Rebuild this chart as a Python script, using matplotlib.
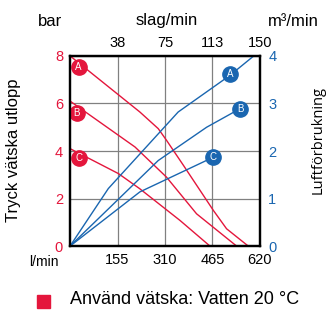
import matplotlib.pyplot as plt
from matplotlib.patches import Rectangle

plt.rcParams['font.family'] = ['Liberation Sans', 'DejaVu Sans']

red = '#e4163c'
blue = '#1a66b0'

# pressure curves (l/min -> bar)
flow_a = [0, 228, 288, 315, 370, 468, 511, 582]
bar_a = [8.0, 5.64, 4.94, 4.45, 3.40, 1.50, 0.73, 0]
flow_b = [0, 212, 315, 413, 544]
bar_b = [6.1, 4.17, 2.9, 1.36, 0]
flow_c = [0, 158, 228, 359, 457]
bar_c = [4.1, 3.05, 2.41, 1.08, 0]

# air consumption curves (l/min -> m3/min)
air_flow_a = [0, 125, 353, 522, 600]
air_a = [0, 1.21, 2.82, 3.59, 4.0]
air_flow_b = [0, 288, 446, 555]
air_b = [0, 1.80, 2.5, 2.89]
air_flow_c = [0, 228, 468]
air_c = [0, 1.14, 1.87]

xticks = [155, 310, 465, 620]
top_labels = ['38', '75', '113', '150']

fig = plt.figure(figsize=(3.35, 3.23), dpi=100)
ax = fig.add_axes([0.209, 0.238, 0.567, 0.589])
ax2 = ax.twinx()

ax.plot(flow_a, bar_a, color=red, lw=1)
ax.plot(flow_b, bar_b, color=red, lw=1)
ax.plot(flow_c, bar_c, color=red, lw=1)
ax2.plot(air_flow_a, air_a, color=blue, lw=1)
ax2.plot(air_flow_b, air_b, color=blue, lw=1)
ax2.plot(air_flow_c, air_c, color=blue, lw=1)

# circle markers with letters
for x, y, t in [(28, 7.55, 'A'), (22, 5.6, 'B'), (30, 3.7, 'C')]:
    ax.plot(x, y, 'o', ms=11, color=red, zorder=5)
    ax.text(x, y, t, color='white', fontsize=7, ha='center', va='center', zorder=6)
for x, y, t in [(522, 3.62, 'A'), (555, 2.89, 'B'), (468, 1.87, 'C')]:
    ax2.plot(x, y, 'o', ms=11, color=blue, zorder=5)
    ax2.text(x, y, t, color='white', fontsize=7, ha='center', va='center', zorder=6)

ax.set_xlim(0, 620)
ax.set_ylim(0, 8)
ax2.set_ylim(0, 4)
ax.set_xticks(xticks)
ax.set_yticks([0, 2, 4, 6, 8])
ax2.set_yticks([0, 1, 2, 3, 4])
ax.grid(True, color='#808080', lw=0.9)
ax.tick_params(length=0, labelsize=10.5, pad=5)
ax.tick_params(axis='y', colors=red)
ax.tick_params(axis='x', colors='black')
ax2.tick_params(length=0, labelsize=10.5, colors=blue, pad=6)
for s in ax.spines.values():
    s.set_linewidth(1.6)
for s in ax2.spines.values():
    s.set_linewidth(1.6)

# top axis labels (slag/min)
for x, t in zip(xticks, top_labels):
    ax.text(x, 8.25, t, ha='center', va='bottom', fontsize=10.5)

fig.text(50 / 335, 1 - 21 / 323, 'bar', ha='center', va='center', fontsize=12)
fig.text(167 / 335, 1 - 21 / 323, 'slag/min', ha='center', va='center', fontsize=12)
fig.text(293 / 335, 1 - 21 / 323, 'm³/min', ha='center', va='center', fontsize=12)
fig.text(44 / 335, 1 - 262 / 323, 'l/min', ha='center', va='center', fontsize=10)

fig.text(14 / 335, 1 - 150 / 323, 'Tryck vätska utlopp', rotation=90,
         ha='center', va='center', fontsize=12)
fig.text(318 / 335, 1 - 140 / 323, 'Luftförbrukning', rotation=90,
         ha='center', va='center', fontsize=10.5, family=['Open Sans', 'DejaVu Sans'])

fig.patches.append(Rectangle((37 / 335, 1 - 308 / 323), 13 / 335, 13 / 323,
                             transform=fig.transFigure, color=red))
fig.text(70 / 335, 1 - 300 / 323, 'Använd vätska: Vatten 20 °C',
         ha='left', va='center', fontsize=13)

fig.savefig('out.png', dpi=100)
